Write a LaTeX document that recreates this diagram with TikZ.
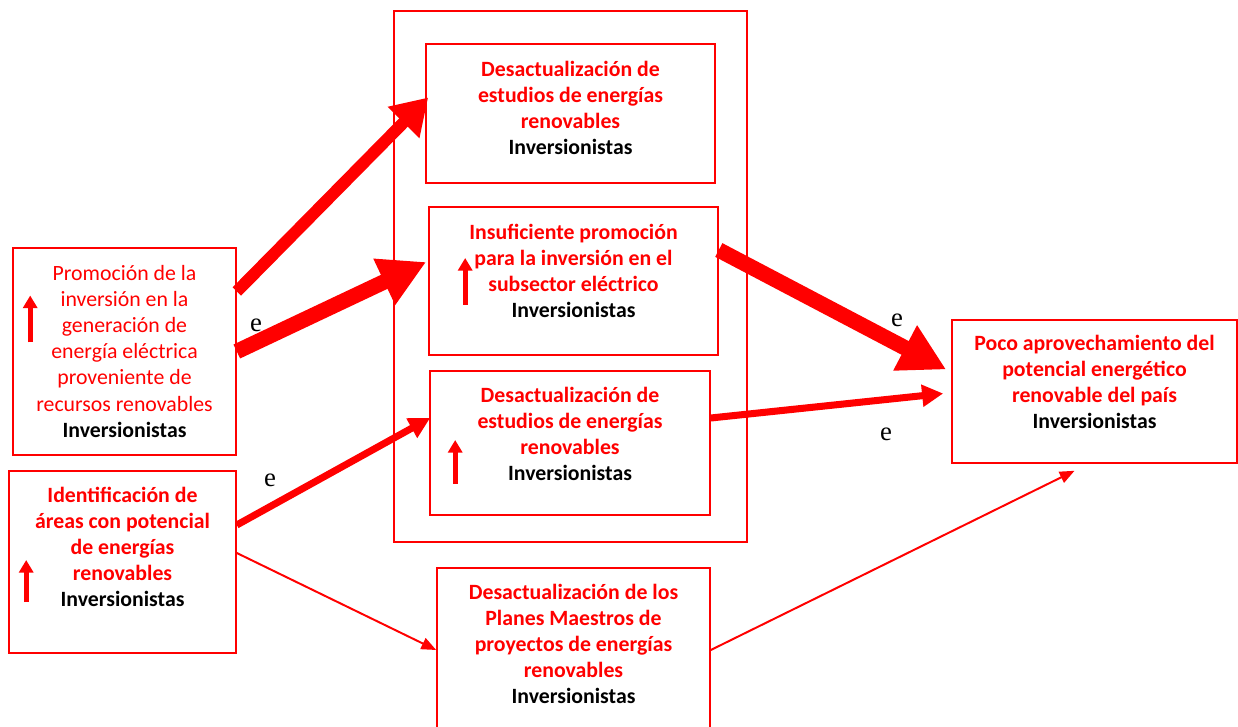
\documentclass[tikz,border=0pt]{standalone}
\usepackage{fontspec}
\setmainfont{Liberation Serif}
\newfontfamily\boxfont{Carlito}
\usetikzlibrary{positioning, calc, arrows.meta}

\begin{document}
\begin{tikzpicture}[
        x=0.025cm, y=-0.025cm,
        box/.style={draw=red, line width=1.1pt, align=center, text=red, inner sep=2pt,
                    font=\boxfont\fontsize{15.5}{18.5}\selectfont\bfseries},
        softbox/.style={box, font=\boxfont\fontsize{15.5}{18.5}\selectfont},
        elbl/.style={font=\fontsize{19}{20}\selectfont, inner sep=0pt},
        huge/.style={draw=red, line width=11pt, -{Triangle[length=33pt, width=34pt]}},
        big/.style={draw=red, line width=8.5pt, -{Triangle[length=25pt, width=30pt]}},
        mid/.style={draw=red, line width=5pt, -{Triangle[length=15pt, width=15pt]}},
        thin/.style={draw=red, line width=1.4pt, -{Triangle[length=10.5pt, width=8.5pt]}},
        upmark/.style={draw=red, line width=3.5pt, -{Triangle[length=9pt, width=10pt]}},
    ]
        \useasboundingbox (0,0) rectangle (1238,727);

        % causes on the left
        \node[softbox, minimum width=5.575cm, minimum height=5.175cm] (P) at (124.5,351.5)
            {Promoción de la\\ inversión en la\\ generación de\\ energía eléctrica\\
             proveniente de\\ recursos renovables\\ \textcolor{black}{\bfseries Inversionistas}};
        \node[box, minimum width=5.675cm, minimum height=4.55cm] (I) at (122.5,562)
            {Identificación de\\ áreas con potencial\\ de energías\\ renovables\\
             \textcolor{black}{Inversionistas}\\[3pt]};

        % middle column, inside the frame
        \draw[red, line width=1.1pt] (394,11) rectangle (747,542);
        \node[box, minimum width=7.225cm, minimum height=3.475cm] (A) at (570.5,113.5)
            {Desactualización de\\ estudios de energías\\ renovables\\ \textcolor{black}{Inversionistas}\\[-10pt]};
        \node[box, minimum width=7.225cm, minimum height=3.7cm] (B) at (573.5,281)
            {Insuficiente promoción\\ para la inversión en el\\ subsector eléctrico\\
             \textcolor{black}{Inversionistas}\\[-4pt]};
        \node[box, minimum width=7cm, minimum height=3.6cm] (C) at (570,443)
            {Desactualización de\\ estudios de energías\\ renovables\\ \textcolor{black}{Inversionistas}\\[-5pt]};
        \node[box, minimum width=6.825cm, minimum height=4.1cm] (D) at (573.5,650)
            {Desactualización de los\\ Planes Maestros de\\ proyectos de energías\\ renovables\\
             \textcolor{black}{Inversionistas}\\[-10pt]};

        % effect on the right
        \node[box, minimum width=7.125cm, minimum height=3.575cm] (E) at (1094.5,391.5)
            {Poco aprovechamiento del\\ potencial energético\\ renovable del país\\
             \textcolor{black}{Inversionistas}\\[-5pt]};

        % up marks inside the boxes
        \draw[upmark] ($(P.west)+(18,-9)$) -- ($(P.west)+(18,-56)$);
        \draw[upmark] ($(I.west)+(18,40)$) -- ($(I.west)+(18,-2)$);
        \draw[upmark] ($(B.west)+(37,24)$) -- ($(B.west)+(37,-23)$);
        \draw[upmark] ($(C.west)+(26,41)$) -- ($(C.west)+(26,-3)$);

        % links
        \draw[big]  ($(P.east)+(0,-60)$) -- ($(A.west)+(3,-16)$);
        \draw[huge] (P.east) -- ($(B.west)+(-2,-19)$);
        \draw[mid]  ($(I.east)+(0,-37)$) -- ($(C.west)+(1,-25)$);
        \draw[thin] ($(I.east)+(0,-9)$) -- (D.west);
        \draw[huge] ($(B.east)+(0,-31)$) -- ($(E.west)+(-5,-22)$);
        \draw[mid]  ($(C.east)+(0,-25)$) -- ($(E.west)+(-8,2)$);
        \draw[thin] (D.east) -- ($(E.south)+(-20,7)$);

        % e marks
        \node[elbl] (e1) at (256,325) {e};
        \node[elbl] (e2) at (270,480) {e};
        \node[elbl] (e3) at (897,320) {e};
        \node[elbl] (e4) at (886,434) {e};
    \end{tikzpicture}
\end{document}
